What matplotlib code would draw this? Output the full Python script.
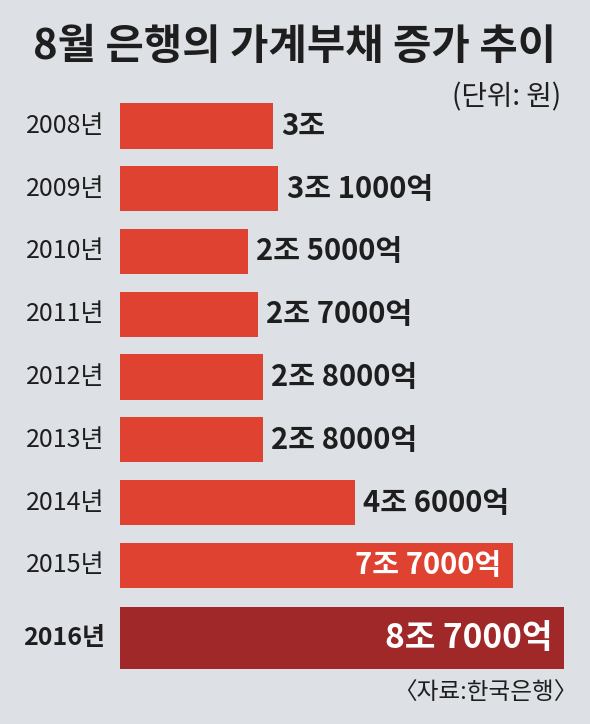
import numpy as np
import matplotlib
matplotlib.use("Agg")
import matplotlib.pyplot as plt

plt.rcParams['font.family'] = ['Noto Sans CJK KR', 'DejaVu Sans']

# data (단위: 조 원)
years = ['2008년', '2009년', '2010년', '2011년', '2012년', '2013년', '2014년', '2015년', '2016년']
values = [3.0, 3.1, 2.5, 2.7, 2.8, 2.8, 4.6, 7.7, 8.7]
value_labels = ['3조', '3조 1000억', '2조 5000억', '2조 7000억', '2조 8000억',
                '2조 8000억', '4조 6000억', '7조 7000억', '8조 7000억']

bg = '#dde0e5'
red = '#df4230'
dark_red = '#a12828'
ink = '#1e1e1e'

fig = plt.figure(figsize=(5.9, 7.24), dpi=100, facecolor=bg)

# axes placed so the bars start at x=120px
ax = fig.add_axes([120 / 590, 1 - 684.5 / 724, 459 / 590, 589.9 / 724])
ax.set_facecolor(bg)
ax.set_xlim(0, 9.0)
ax.set_ylim(8.9, -0.5)

pos = np.arange(len(years), dtype=float)
heights = np.full(len(years), 0.72)
colors = [red] * len(years)
pos[-1] += 0.16          # last bar is drawn taller
heights[-1] = 0.99
colors[-1] = dark_red

ax.barh(pos, values, height=heights, color=colors)

for i, (y, v, lab) in enumerate(zip(pos, values, value_labels)):
    if v > 6:   # long bars get the label inside, in white
        ax.text(v - 0.22, y, lab, ha='right', va='center', color='white',
                fontsize=21 if i < 8 else 24, fontweight='bold')
    else:
        ax.text(v + 0.17, y, lab, ha='left', va='center', color=ink,
                fontsize=21, fontweight='bold')
    ax.text(-0.3, y, years[i], ha='right', va='center', color=ink,
            fontsize=18, fontweight='bold' if i == 8 else 'normal')

ax.axis('off')

fig.text(0.5, 1 - 47 / 724, '8월 은행의 가계부채 증가 추이', ha='center', va='center',
         fontsize=30, fontweight='bold', color=ink)
fig.text(561 / 590, 1 - 97 / 724, '(단위: 원)', ha='right', va='center',
         fontsize=20, color=ink)
fig.text(577 / 590, 1 - 693 / 724, '〈자료:한국은행〉', ha='right', va='center',
         fontsize=17, color=ink)

fig.savefig('out.png', dpi=100, facecolor=bg)
